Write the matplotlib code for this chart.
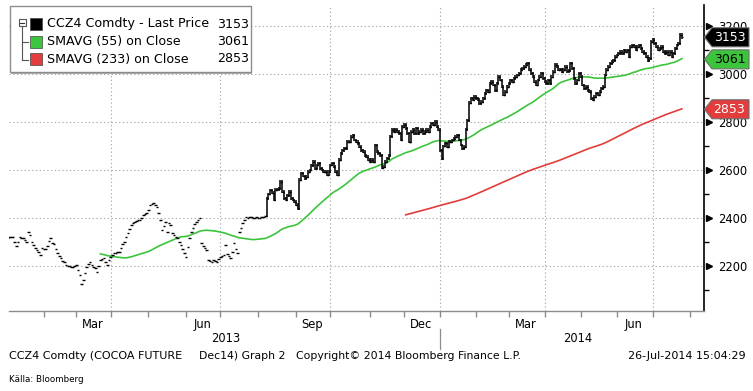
import numpy as np
import pandas as pd
import matplotlib
matplotlib.use("Agg")
import matplotlib.pyplot as plt
from matplotlib.patches import Rectangle, Polygon

plt.rcParams['font.family'] = ['DejaVu Sans']

# ---------------- data ----------------
holidays = ['2013-01-21', '2013-02-18', '2013-03-29', '2013-05-27', '2013-07-04',
            '2013-09-02', '2013-11-28', '2013-12-25', '2014-01-01', '2014-01-20',
            '2014-02-17', '2014-04-18', '2014-05-26', '2014-07-04']
first_day = '2013-01-02'
last_day = '2014-07-25'
axis_end_day = '2014-08-15'
full_bars_from = '2013-08-08'

close = [
    2315, 2320, 2322, 2322, 2300, 2283, 2300, 2322, 2318, 2316,
    2310, 2301, 2343, 2330, 2300, 2287, 2274, 2268, 2260, 2246,
    2275, 2272, 2271, 2285, 2305, 2317, 2297, 2290, 2270, 2255,
    2242, 2232, 2222, 2215, 2205, 2200, 2198, 2195, 2194, 2200,
    2204, 2185, 2163, 2125, 2142, 2170, 2197, 2210, 2218, 2205,
    2195, 2190, 2176, 2200, 2225, 2230, 2232, 2215, 2204, 2225,
    2239, 2245, 2253, 2255, 2258, 2260, 2275, 2290, 2301, 2320,
    2336, 2355, 2371, 2378, 2385, 2388, 2390, 2392, 2400, 2413,
    2418, 2420, 2435, 2454, 2458, 2461, 2455, 2447, 2420, 2392,
    2350, 2365, 2385, 2343, 2378, 2370, 2336, 2330, 2322, 2315,
    2300, 2287, 2270, 2253, 2239, 2280, 2315, 2343, 2360, 2375,
    2385, 2392, 2399, 2295, 2285, 2275, 2267, 2225, 2220, 2218,
    2225, 2222, 2218, 2230, 2239, 2242, 2246, 2287, 2250, 2240,
    2232, 2260, 2295, 2270, 2253, 2343, 2360, 2378, 2390, 2405,
    2400, 2405, 2403, 2398, 2402, 2405, 2400, 2398, 2403, 2405,
    2410, 2482, 2500, 2515, 2505, 2475, 2517, 2520, 2524, 2551,
    2510, 2482, 2475, 2495, 2510, 2482, 2475, 2468, 2455, 2440,
    2560, 2586, 2575, 2565, 2572, 2593, 2600, 2620, 2635, 2607,
    2621, 2628, 2607, 2600, 2593, 2593, 2579, 2593, 2621, 2628,
    2614, 2593, 2579, 2642, 2670, 2683, 2690, 2690, 2718, 2718,
    2739, 2746, 2725, 2718, 2711, 2697, 2683, 2676, 2662, 2655,
    2642, 2635, 2642, 2635, 2704, 2676, 2669, 2662, 2610, 2614,
    2635, 2649, 2662, 2740, 2767, 2760, 2767, 2760, 2753, 2725,
    2780, 2788, 2774, 2753, 2718, 2760, 2767, 2753, 2774, 2753,
    2760, 2767, 2753, 2760, 2767, 2760, 2780, 2795, 2788, 2802,
    2780, 2767, 2683, 2649, 2700, 2711, 2697, 2718, 2718, 2725,
    2730, 2739, 2746, 2725, 2704, 2690, 2697, 2770, 2808, 2880,
    2899, 2892, 2905, 2899, 2892, 2878, 2885, 2899, 2920, 2933,
    2926, 2961, 2968, 2954, 2933, 2961, 2989, 2975, 2947, 2913,
    2926, 2947, 2961, 2975, 2968, 2982, 2989, 2996, 3003, 3017,
    3024, 3031, 3038, 3044, 3017, 3003, 2989, 2968, 2954, 2975,
    2989, 3003, 2982, 2968, 2961, 2975, 2961, 2989, 3010, 3038,
    3031, 3017, 3020, 3010, 3017, 3031, 3012, 3015, 3044, 3024,
    2982, 2961, 2975, 3003, 2989, 2954, 2940, 2947, 2933, 2926,
    2899, 2892, 2905, 2920, 2913, 2926, 2940, 2947, 2996, 3017,
    3031, 3044, 3051, 3058, 3072, 3079, 3086, 3093, 3086, 3100,
    3093, 3100, 3072, 3114, 3121, 3114, 3100, 3114, 3121, 3107,
    3093, 3086, 3072, 3058, 3065, 3135, 3142, 3128, 3114, 3100,
    3107, 3114, 3093, 3086, 3093, 3079, 3093, 3072, 3086, 3107,
    3121, 3128, 3163, 3153,
]

series_names = ['CCZ4 Comdty - Last Price', 'SMAVG (55) on Close', 'SMAVG (233) on Close']
legend_values = [3153, 3061, 2853]
sma_windows = [55, 233]
series_colors = ['#000000', '#3cc43c', '#e23c3c']
box_text_colors = ['white', 'black', 'white']

y_major = [2200, 2400, 2600, 2800, 3000, 3200]
y_minor = [2100, 2300, 2500, 2700, 2900, 3100]
label_months = ['2013-03', '2013-06', '2013-09', '2013-12', '2014-03', '2014-06']
grid_months = ['2013-04', '2013-07', '2013-10', '2014-01', '2014-04', '2014-07']
years = ['2013', '2014']

footer = ['CCZ4 Comdty (COCOA FUTURE', 'Dec14) Graph 2',
          'Copyright\u00a9 2014 Bloomberg Finance L.P.', '26-Jul-2014 15:04:29']
source = 'K\u00e4lla: Bloomberg'

# ---------------- derived ----------------
hol = pd.to_datetime(holidays)
axis_dates = pd.bdate_range(first_day, axis_end_day)
axis_dates = axis_dates[~axis_dates.isin(hol)]
dates = axis_dates[axis_dates <= pd.Timestamp(last_day)]
c = np.array(close, dtype=float)
assert len(c) == len(dates), (len(c), len(dates))
idx = np.arange(len(c))
aidx = np.arange(len(axis_dates))
periods = axis_dates.to_period('M')

# ---------------- figure ----------------
W, H = 753, 391
fig = plt.figure(figsize=(W / 100, H / 100), dpi=100)
ax = fig.add_axes([9 / W, 1 - 311 / H, (704.3 - 9) / W, (311 - 5) / H])
ax.set_xlim(0.7, 406.1)
ax.set_ylim(2012.5, 3287.5)

for s in ['top', 'left']:
    ax.spines[s].set_visible(False)
ax.spines['right'].set_color('black')
ax.spines['right'].set_linewidth(1.2)
ax.spines['bottom'].set_color('#8c8c8c')
ax.spines['bottom'].set_linewidth(1.0)

# grid
for v in y_major:
    ax.axhline(v, color='#ababab', lw=0.8, ls=(0, (1.2, 2.2)), zorder=0)
for m in grid_months:
    pos = aidx[periods == pd.Period(m)][0]
    ax.axvline(pos, color='#ababab', lw=0.8, ls=(0, (1.2, 2.2)), zorder=0)

# price bars
k = int(np.searchsorted(dates, pd.Timestamp(full_bars_from)))
e = idx < k
ax.hlines(c[e], idx[e] - 0.75, idx[e] + 0.75, color='black', lw=1.0, zorder=3)
f = idx[k:]
prev = c[k - 1:-1]
cur = c[k:]
ax.vlines(f, np.minimum(prev, cur) - 6, np.maximum(prev, cur) + 6, color='#111111', lw=1.2, zorder=3)
ax.hlines(cur, f, f + 0.8, color='black', lw=1.0, zorder=3)
ax.hlines(prev, f - 0.8, f, color='black', lw=1.0, zorder=3)

# moving averages
cs = pd.Series(c)
for w, col in zip(sma_windows, series_colors[1:]):
    ax.plot(idx, cs.rolling(w).mean(), color=col, lw=1.2, zorder=2)

# y axis on right
ax.yaxis.tick_right()
ax.set_yticks(y_major)
ax.set_yticks(y_minor, minor=True)
ax.set_yticklabels([str(v) for v in y_major])
ax.tick_params(axis='y', which='major', length=0, pad=10, labelsize=8.3, colors='black')
ax.tick_params(axis='y', which='minor', length=3.5, width=1, colors='black', direction='out')
ytr = ax.get_yaxis_transform()
ax.plot([1 + 4.5 / 695] * len(y_major), y_major, marker='>', ls='none', ms=4.8,
        color='black', transform=ytr, clip_on=False, zorder=6)

# x axis
month_starts = [aidx[periods == p][0] for p in periods.unique()][1:]
ax.set_xticks(month_starts, minor=True)
ax.tick_params(axis='x', which='minor', length=4, width=1, colors='#8c8c8c', direction='out')
label_pos = [aidx[periods == pd.Period(m)].mean() for m in label_months]
ax.set_xticks(label_pos)
ax.set_xticklabels([pd.Period(m).strftime('%b') for m in label_months])
ax.tick_params(axis='x', which='major', length=0, pad=5, labelsize=8.3)

# ---------------- overlay (pixel coords) ----------------
ov = fig.add_axes([0, 0, 1, 1])
ov.set_xlim(0, W)
ov.set_ylim(H, 0)
ov.axis('off')
ov.patch.set_alpha(0)
ov.set_zorder(10)


def py(v):
    return H - ax.transData.transform((0, v))[1]


def px(i):
    return ax.transData.transform((i, 0))[0]


# legend box
ov.add_patch(Rectangle((11.5, 7.5), 241, 66, facecolor='#b0b0b0', edgecolor='none'))
ov.add_patch(Rectangle((10, 6), 241, 66, facecolor='white', edgecolor='#8c8c8c', lw=1))
ov.add_patch(Rectangle((19, 19), 7, 7, facecolor='white', edgecolor='#555555', lw=0.8))
ov.plot([20.5, 24.5], [22.5, 22.5], color='#333333', lw=0.8)
ov.plot([22.5, 22.5], [26, 59.5], color='#555555', lw=0.8)
ov.plot([22.5, 28], [42, 42], color='#555555', lw=0.8)
ov.plot([22.5, 28], [59.5, 59.5], color='#555555', lw=0.8)
for j, (nm, val, col) in enumerate(zip(series_names, legend_values, series_colors)):
    yc = 24 + j * 17.5
    ov.add_patch(Rectangle((30, yc - 6), 12, 12, facecolor=col, edgecolor='#444444', lw=0.5))
    ov.text(47, yc, nm, fontsize=9.1, va='center', ha='left', color='black')
    ov.text(217, yc, str(val), fontsize=9.1, va='center', ha='left', color='black')

# value boxes on right axis
for val, col, tcol in zip(legend_values, series_colors, box_text_colors):
    y = py(val)
    hh = 9.5
    ov.add_patch(Polygon([(704.5, y), (712, y - hh), (749, y - hh), (749, y + hh), (712, y + hh)],
                         closed=True, facecolor=col, edgecolor='#6e6e6e', lw=0.8))
    ov.text(729.5, y + 0.5, str(val), fontsize=9, color=tcol, ha='center', va='center')

# year labels + divider
jan14 = aidx[periods == pd.Period('2014-01')][0]
ov.plot([px(jan14)] * 2, [329, 349], color='#8c8c8c', lw=0.9)
ov.text(226, 339, years[0], fontsize=8.3, ha='center', va='center')
ov.text(578, 339, years[1], fontsize=8.3, ha='center', va='center')

# footer
ov.text(9, 356, footer[0], fontsize=8.0, ha='left', va='center')
ov.text(199, 356, footer[1], fontsize=7.8, ha='left', va='center')
ov.text(296, 356, footer[2], fontsize=7.8, ha='left', va='center')
ov.text(746, 356, footer[3], fontsize=8.0, ha='right', va='center')
ov.text(9, 380, source, fontsize=6.3, ha='left', va='center')

fig.savefig('out.png', dpi=100)
